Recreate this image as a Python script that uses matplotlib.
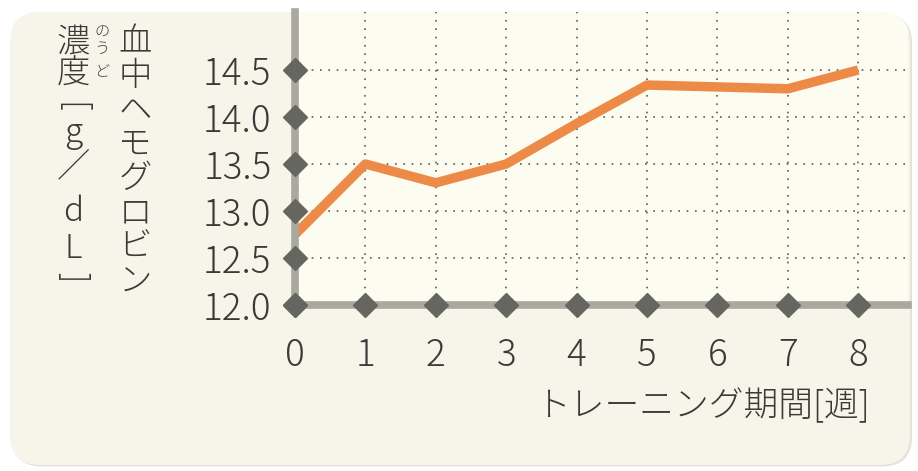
"""
Hemoglobin concentration vs. training period (recreation)
"""

import matplotlib
matplotlib.use('Agg')

import matplotlib.pyplot as plt
from matplotlib.patches import FancyBboxPatch

plt.rcParams['font.family'] = ['Noto Sans CJK JP', 'DejaVu Sans']
plt.rcParams['font.weight'] = 'light'

# data
weeks = [0, 1, 2, 3, 4, 5, 6, 7, 8]
hemoglobin = [12.75, 13.5, 13.3, 13.5, 13.93, 14.34, 14.32, 14.3, 14.5]
y_ticks = [12.0, 12.5, 13.0, 13.5, 14.0, 14.5]
y_tick_labels = ['12.0', '12.5', '13.0', '13.5', '14.0', '14.5']
x_label = 'トレーニング期間[週]'
y_label_main = '血中ヘモグロビン'
# second column of the vertical label: (char, rotation)
y_label_unit = [('濃', 0), ('度', 0), ('[', -90), ('g', 0), ('／', 0),
                ('d', 0), ('L', 0), (']', -90)]
y_label_ruby = ['の', 'う', 'ど']

panel_color = '#f7f5ea'
plot_color = '#fdfcf0'
spine_color = '#a9a99f'
marker_color = '#666660'
line_color = '#ee8a48'
text_color = '#3a3a38'

W, H, dpi = 918, 471, 100
fig = plt.figure(figsize=(W / dpi, H / dpi), dpi=dpi)
fig.patch.set_facecolor('white')

# rounded cream panel with a faint shadow (in inches)
shadow = FancyBboxPatch((0.12, 0.045), 9.0, 4.53,
                        boxstyle='round,pad=0,rounding_size=0.3',
                        transform=fig.dpi_scale_trans,
                        facecolor='#e4e2da', edgecolor='none', zorder=0)
panel = FancyBboxPatch((0.10, 0.06), 9.0, 4.53,
                       boxstyle='round,pad=0,rounding_size=0.3',
                       transform=fig.dpi_scale_trans,
                       facecolor=panel_color, edgecolor='none', zorder=0)
fig.add_artist(shadow)
fig.add_artist(panel)

x0, x1 = 295, 908    # pixel extents of plot area
y0, y1 = 305, 12
ax = fig.add_axes([x0 / W, (H - y0) / H, (x1 - x0) / W, (y0 - y1) / H])
ax.set_facecolor(plot_color)
ax.patch.set_clip_path(panel)

px_x = 70.4
px_y = 94.0
ax.set_xlim(0, (x1 - x0) / px_x)
ax.set_ylim(12.0, 12.0 + (y0 - y1) / px_y)

# dotted grid
for w in weeks[1:]:
    ax.axvline(w, color='#5a5a55', lw=1.2, ls=(0, (1, 4)), zorder=1,
               clip_path=panel)
for v in y_ticks[1:]:
    ax.axhline(v, color='#5a5a55', lw=1.2, ls=(0, (1, 4)), zorder=1,
               clip_path=panel)

ax.plot(weeks, hemoglobin, color=line_color, lw=6.8, zorder=2,
        solid_capstyle='butt')

for side in ['top', 'right']:
    ax.spines[side].set_visible(False)
for side in ['left', 'bottom']:
    ax.spines[side].set_color(spine_color)
    ax.spines[side].set_linewidth(5.5)
    ax.spines[side].set_zorder(3)

# diamond tick marks
ax.plot([0] * len(y_ticks), y_ticks, ls='none', marker='D', ms=12,
        color=marker_color, clip_on=False, zorder=4)
ax.plot(weeks, [12.0] * len(weeks), ls='none', marker='D', ms=12,
        color=marker_color, clip_on=False, zorder=4)

ax.set_yticks(y_ticks)
ax.set_yticklabels(y_tick_labels)
ax.set_xticks(weeks)
ax.set_xticklabels([str(w) for w in weeks])
ax.tick_params(axis='both', length=0, labelsize=26.5, labelcolor=text_color)
ax.tick_params(axis='y', pad=17)
ax.tick_params(axis='x', pad=23)

# axis titles
fig.text(870 / W, 1 - 406 / H, x_label, ha='right', va='center',
         fontsize=25, color=text_color)

main_top, main_pitch = 42, 34.3
for i, ch in enumerate(y_label_main):
    fig.text(135 / W, 1 - (main_top + i * main_pitch) / H, ch,
             ha='center', va='center', fontsize=24, color=text_color)

unit_y = [42, 74, 107, 133, 167, 212, 249, 277]
for (ch, rot), yy in zip(y_label_unit, unit_y):
    fig.text(73 / W, 1 - yy / H, ch, ha='center', va='center',
             fontsize=24, color=text_color, rotation=rot)

ruby_y = [33, 49, 72]
for ch, yy in zip(y_label_ruby, ruby_y):
    fig.text(102 / W, 1 - yy / H, ch, ha='center', va='center',
             fontsize=11, color=text_color)

fig.savefig('out.png', dpi=dpi)
